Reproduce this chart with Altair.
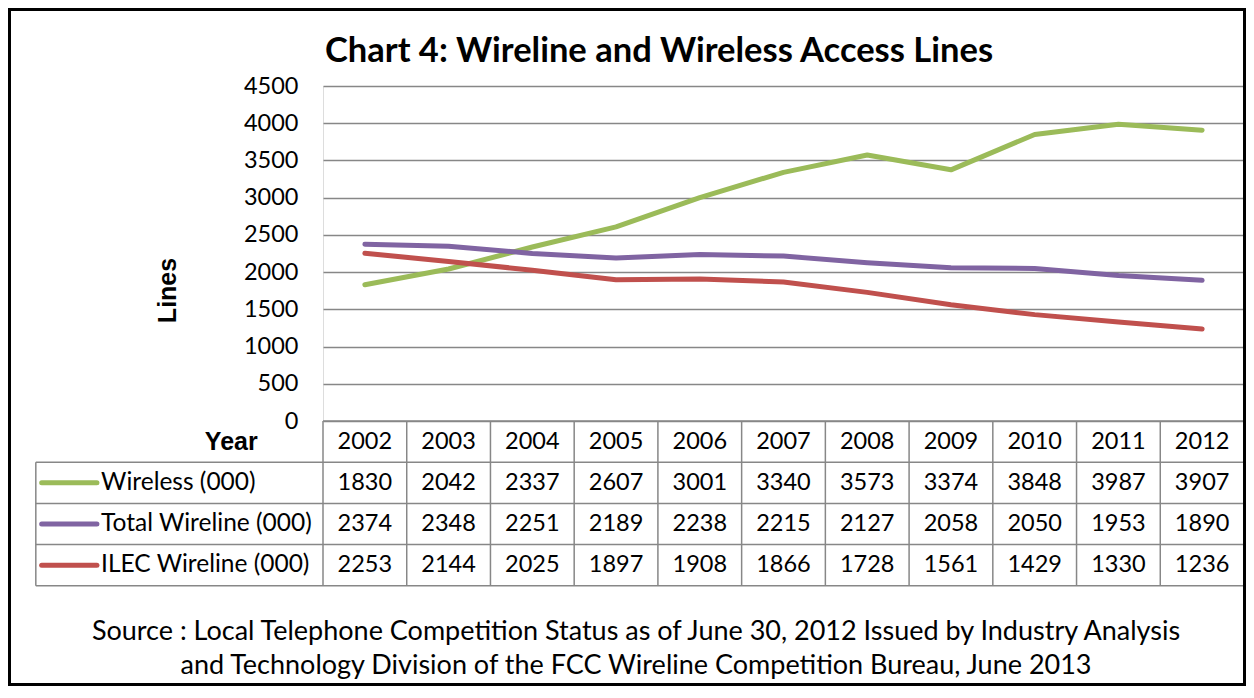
import altair as alt
import pandas as pd

# ---------------- data ----------------
years = [2002, 2003, 2004, 2005, 2006, 2007, 2008, 2009, 2010, 2011, 2012]
wireless = [1830, 2042, 2337, 2607, 3001, 3340, 3573, 3374, 3848, 3987, 3907]
total_wireline = [2374, 2348, 2251, 2189, 2238, 2215, 2127, 2058, 2050, 1953, 1890]
ilec_wireline = [2253, 2144, 2025, 1897, 1908, 1866, 1728, 1561, 1429, 1330, 1236]
series_names = ["Wireless (000)", "Total Wireline (000)", "ILEC Wireline (000)"]
series_colors = ["#9BBB59", "#8064A2", "#C0504D"]
y_ticks = [0, 500, 1000, 1500, 2000, 2500, 3000, 3500, 4000, 4500]
title_text = "Chart 4:  Wireline and Wireless Access Lines"
y_title = "Lines"
header_label = "Year"
source_lines = [
    "Source : Local Telephone Competition Status as of June 30, 2012 Issued by Industry Analysis",
    "and Technology  Division of the FCC Wireline Competition Bureau, June 2013",
]

# ---------------- layout (styles / sizes) ----------------
PLOT_W = 921
PLOT_H = 335
ROW_H = 41.2
N = len(years)
LABEL_COL_LEFT = -3.43       # left edge of the table's label column (in column units)
SWATCH_X0, SWATCH_X1 = -3.36, -2.70
LABEL_X = -2.65
YEAR_X = -0.78
GRID = "#878787"
FONT = "Lato"
BOLD_FONT = "Liberation Sans"
NUM_SIZE = 23.5
LABEL_SIZE = 24.5

xs = alt.Scale(domain=[0, N])
rows = alt.Scale(domain=[0, 4], range=[PLOT_H, PLOT_H + 4 * ROW_H])
color_scale = alt.Scale(domain=series_names, range=series_colors)

series_values = [wireless, total_wireline, ilec_wireline]
line_df = pd.DataFrame(
    [
        {"x": i + 0.5, "value": v, "series": s, "row": k + 1.5}
        for k, (s, vals) in enumerate(zip(series_names, series_values))
        for i, v in enumerate(vals)
    ]
)

# ---------------- line chart ----------------
lines = alt.Chart(line_df).mark_line(
    strokeWidth=5, strokeCap="round", strokeJoin="round", interpolate="linear"
).encode(
    x=alt.X("x:Q", scale=xs, axis=None),
    y=alt.Y(
        "value:Q",
        scale=alt.Scale(domain=[0, 4500]),
        axis=alt.Axis(
            values=y_ticks,
            format="d",
            title=y_title,
            grid=True,
            gridColor=GRID,
            gridWidth=1.5,
            domain=False,
            ticks=False,
            tickSize=0,
            labelPadding=25,
            labelFont=FONT,
            labelFontSize=NUM_SIZE,
            labelColor="black",
            titleFont=BOLD_FONT,
            titleFontWeight="bold",
            titleFontSize=25,
            titleColor="black",
            titleAngle=270,
            titleX=-156,
            titleY=204,
            titleAlign="center",
            titleBaseline="middle",
        ),
    ),
    color=alt.Color("series:N", scale=color_scale, legend=None),
)

# ---------------- data table ----------------
vert = [{"x": float(i), "r0": 0, "r1": 4} for i in range(N + 1)]
vert.append({"x": LABEL_COL_LEFT, "r0": 1, "r1": 4})
vert_df = pd.DataFrame(vert)
horiz = [{"x0": 0.0, "x1": float(N), "r": 0}]
horiz += [{"x0": LABEL_COL_LEFT, "x1": float(N), "r": r} for r in range(1, 5)]
horiz_df = pd.DataFrame(horiz)

vrules = alt.Chart(vert_df).mark_rule(color=GRID, strokeWidth=1.5).encode(
    x=alt.X("x:Q", scale=xs, axis=None),
    y=alt.Y("r0:Q", scale=rows, axis=None),
    y2="r1:Q",
)
hrules = alt.Chart(horiz_df).mark_rule(color=GRID, strokeWidth=1.5).encode(
    x=alt.X("x0:Q", scale=xs, axis=None),
    x2="x1:Q",
    y=alt.Y("r:Q", scale=rows, axis=None),
)

header_df = pd.DataFrame({"x": [i + 0.5 for i in range(N)], "row": 0.5, "label": [str(y) for y in years]})
header_text = alt.Chart(header_df).mark_text(
    font=FONT, fontSize=NUM_SIZE, color="black", align="center", baseline="middle"
).encode(
    x=alt.X("x:Q", scale=xs, axis=None),
    y=alt.Y("row:Q", scale=rows, axis=None),
    text="label:N",
)

value_text = alt.Chart(line_df).mark_text(
    font=FONT, fontSize=NUM_SIZE, color="black", align="center", baseline="middle"
).encode(
    x=alt.X("x:Q", scale=xs, axis=None),
    y=alt.Y("row:Q", scale=rows, axis=None),
    text="value:Q",
)

legend_df = pd.DataFrame(
    {
        "series": series_names,
        "row": [k + 1.5 for k in range(len(series_names))],
        "sx0": SWATCH_X0,
        "sx1": SWATCH_X1,
        "lx": LABEL_X,
    }
)
swatches = alt.Chart(legend_df).mark_rule(strokeWidth=5, strokeCap="round").encode(
    x=alt.X("sx0:Q", scale=xs, axis=None),
    x2="sx1:Q",
    y=alt.Y("row:Q", scale=rows, axis=None),
    color=alt.Color("series:N", scale=color_scale, legend=None),
)
labels = alt.Chart(legend_df).mark_text(
    font=FONT, fontSize=LABEL_SIZE, color="black", align="left", baseline="middle"
).encode(
    x=alt.X("lx:Q", scale=xs, axis=None),
    y=alt.Y("row:Q", scale=rows, axis=None),
    text="series:N",
)

year_df = pd.DataFrame({"x": [YEAR_X], "row": [0.5], "label": [header_label]})
year_text = alt.Chart(year_df).mark_text(
    font=BOLD_FONT, fontWeight="bold", fontSize=25, color="black", align="right", baseline="middle"
).encode(
    x=alt.X("x:Q", scale=xs, axis=None),
    y=alt.Y("row:Q", scale=rows, axis=None),
    text="label:N",
)

table = alt.layer(vrules, hrules, header_text, value_text, swatches, labels, year_text)

# ---------------- title, source note & frame ----------------
one = pd.DataFrame({"a": [0]})
title_mark = alt.Chart(one).mark_text(
    font=FONT, fontSize=34.5, fontWeight="bold", color="black", align="left", baseline="alphabetic"
).encode(x=alt.value(2), y=alt.value(-24), text=alt.value(title_text))

src_layers = [
    alt.Chart(one).mark_text(
        font=FONT, fontSize=27, color="black", align="center", baseline="middle"
    ).encode(x=alt.value(313), y=alt.value(546 + 34 * k), text=alt.value(line))
    for k, line in enumerate(source_lines)
]
frame = alt.Chart(one).mark_rect(filled=False, stroke="black", strokeWidth=3).encode(
    x=alt.value(-313.5), x2=alt.value(PLOT_W + 0.5), y=alt.value(-76.5), y2=alt.value(598.5)
)

chart = (
    alt.layer(lines, table, title_mark, *src_layers, frame)
    .resolve_scale(y="independent")
    .properties(
        width=PLOT_W,
        height=PLOT_H,
        padding={"left": 315, "top": 78, "right": 2, "bottom": 265},
        autosize="none",
    )
    .configure_view(stroke=None)
    .configure(background="white")
)

chart.save("out.html", embed_options={"renderer": "svg", "actions": False})
